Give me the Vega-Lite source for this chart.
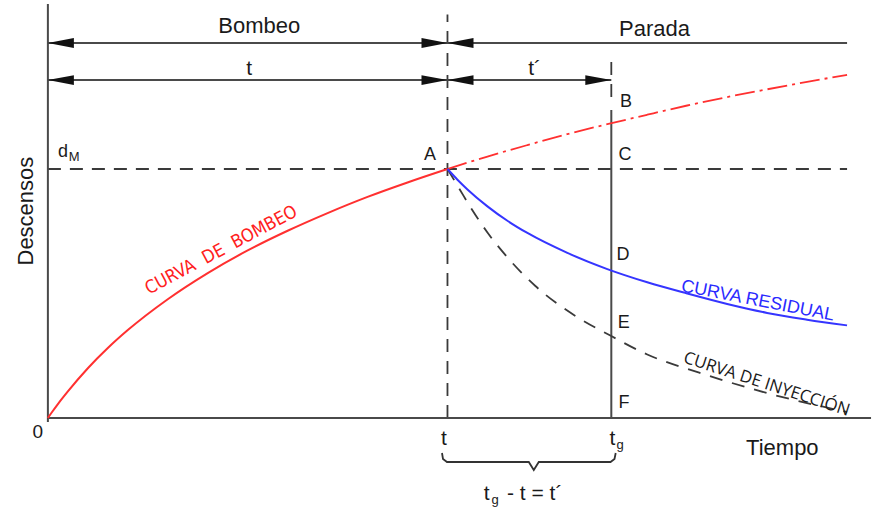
{
  "$schema": "https://vega.github.io/schema/vega-lite/v6.json",
  "description": "Descensos durante el bombeo y la recuperación: curva de bombeo, curva residual y curva de inyección.",
  "width": 873,
  "height": 509,
  "autosize": {"type": "fit", "contains": "padding"},
  "padding": 0,
  "background": "white",
  "config": {"view": {"stroke": null}, "text": {"font": "Liberation Sans"}},
  "datasets": {
    "curves": [
      {"curve": "bombeo", "x": 0, "y": 0},
      {"curve": "bombeo", "x": 0.1, "y": 0.23},
      {"curve": "bombeo", "x": 0.25, "y": 0.56},
      {"curve": "bombeo", "x": 0.5, "y": 1.07},
      {"curve": "bombeo", "x": 1, "y": 2.0},
      {"curve": "bombeo", "x": 1.5, "y": 2.81},
      {"curve": "bombeo", "x": 2, "y": 3.53},
      {"curve": "bombeo", "x": 3, "y": 4.77},
      {"curve": "bombeo", "x": 4, "y": 5.82},
      {"curve": "bombeo", "x": 5, "y": 6.73},
      {"curve": "bombeo", "x": 6, "y": 7.52},
      {"curve": "bombeo", "x": 7, "y": 8.23},
      {"curve": "bombeo", "x": 8, "y": 8.88},
      {"curve": "bombeo", "x": 9, "y": 9.46},
      {"curve": "bombeo", "x": 10, "y": 10},
      {"curve": "prolongacion", "x": 10, "y": 10},
      {"curve": "prolongacion", "x": 11, "y": 10.5},
      {"curve": "prolongacion", "x": 12, "y": 10.96},
      {"curve": "prolongacion", "x": 13, "y": 11.4},
      {"curve": "prolongacion", "x": 14, "y": 11.8},
      {"curve": "prolongacion", "x": 15, "y": 12.18},
      {"curve": "prolongacion", "x": 16, "y": 12.55},
      {"curve": "prolongacion", "x": 17, "y": 12.89},
      {"curve": "prolongacion", "x": 18, "y": 13.2},
      {"curve": "prolongacion", "x": 19, "y": 13.5},
      {"curve": "prolongacion", "x": 20, "y": 13.78},
      {"curve": "residual", "x": 10, "y": 10},
      {"curve": "residual", "x": 10.25, "y": 9.57},
      {"curve": "residual", "x": 10.5, "y": 9.18},
      {"curve": "residual", "x": 11, "y": 8.5},
      {"curve": "residual", "x": 11.5, "y": 7.92},
      {"curve": "residual", "x": 12, "y": 7.43},
      {"curve": "residual", "x": 13, "y": 6.63},
      {"curve": "residual", "x": 14, "y": 5.98},
      {"curve": "residual", "x": 15, "y": 5.45},
      {"curve": "residual", "x": 16, "y": 5.0},
      {"curve": "residual", "x": 17, "y": 4.58},
      {"curve": "residual", "x": 18, "y": 4.22},
      {"curve": "residual", "x": 19, "y": 3.95},
      {"curve": "residual", "x": 20, "y": 3.72},
      {"curve": "inyeccion", "x": 10, "y": 10},
      {"curve": "inyeccion", "x": 10.3, "y": 9.2},
      {"curve": "inyeccion", "x": 10.6, "y": 8.4},
      {"curve": "inyeccion", "x": 11.0, "y": 7.45},
      {"curve": "inyeccion", "x": 11.5, "y": 6.45},
      {"curve": "inyeccion", "x": 12.2, "y": 5.3},
      {"curve": "inyeccion", "x": 13.2, "y": 4.1},
      {"curve": "inyeccion", "x": 14.1, "y": 3.29},
      {"curve": "inyeccion", "x": 15.0, "y": 2.55},
      {"curve": "inyeccion", "x": 16.3, "y": 1.82},
      {"curve": "inyeccion", "x": 18.0, "y": 1.0},
      {"curve": "inyeccion", "x": 20, "y": 0.24}
    ],
    "solidRules": [
      {"x": 0, "x2": 0, "y": -0.16, "y2": 16.63},
      {"x": 0, "x2": 20.6, "y": 0, "y2": 0},
      {"x": 0, "x2": 20, "y": 15.06, "y2": 15.06},
      {"x": 0, "x2": 14.1, "y": 13.57, "y2": 13.57},
      {"x": 14.1, "x2": 14.1, "y": 0, "y2": 12.37}
    ],
    "dashedRules": [
      {"x": 0, "x2": 20, "y": 10, "y2": 10},
      {"x": 10, "x2": 10, "y": 0, "y2": 16.2},
      {"x": 14.1, "x2": 14.1, "y": 12.89, "y2": 14.46}
    ],
    "arrows": [
      {"x": 0, "y": 15.06, "dir": "left"},
      {"x": 0, "y": 13.57, "dir": "left"},
      {"x": 10, "y": 15.06, "dir": "left"},
      {"x": 10, "y": 13.57, "dir": "left"},
      {"x": 10, "y": 15.06, "dir": "right"},
      {"x": 10, "y": 13.57, "dir": "right"},
      {"x": 14.1, "y": 13.57, "dir": "right"}
    ],
    "brace": [
      {"x": 9.863, "y": -1.406},
      {"x": 9.888, "y": -1.647},
      {"x": 9.988, "y": -1.767},
      {"x": 12.035, "y": -1.767},
      {"x": 12.16, "y": -2.088},
      {"x": 12.285, "y": -1.767},
      {"x": 14.08, "y": -1.767},
      {"x": 14.18, "y": -1.647},
      {"x": 14.21, "y": -1.406}
    ],
    "labels": [
      {"kind": "title", "text": "Bombeo", "x": 5.29, "y": 15.46},
      {"kind": "title", "text": "Parada", "x": 15.18, "y": 15.34},
      {"kind": "title", "text": "Tiempo", "x": 18.38, "y": -1.49},
      {"kind": "tmark", "text": "t", "x": 5.04, "y": 13.78},
      {"kind": "tmark", "text": "t´", "x": 12.18, "y": 13.78},
      {"kind": "tmark", "text": "t", "x": 9.91, "y": -1.08},
      {"kind": "tmark", "text": "t", "x": 14.13, "y": -1.08},
      {"kind": "origin", "text": "0", "x": -0.25, "y": -0.8},
      {"kind": "point", "text": "A", "x": 9.41, "y": 10.36},
      {"kind": "point", "text": "B", "x": 14.32, "y": 12.49},
      {"kind": "point", "text": "C", "x": 14.28, "y": 10.36},
      {"kind": "point", "text": "D", "x": 14.23, "y": 6.35},
      {"kind": "point", "text": "E", "x": 14.26, "y": 3.61},
      {"kind": "point", "text": "F", "x": 14.28, "y": 0.4},
      {"kind": "point", "text": "d", "x": 0.25, "y": 10.48},
      {"kind": "sub", "text": "M", "x": 0.52, "y": 10.32},
      {"kind": "sub", "text": "g", "x": 14.23, "y": -1.24},
      {"kind": "sub", "text": "g", "x": 11.1, "y": -3.45},
      {"kind": "formula", "text": "t", "x": 10.91, "y": -3.29},
      {"kind": "formula", "text": "- t = t´", "x": 11.49, "y": -3.29},
      {"kind": "yaxis", "text": "Descensos", "x": -0.3745, "y": 8.31},
      {"kind": "bombeo", "text": "CURVA\u00a0\u00a0DE\u00a0\u00a0BOMBEO", "x": 4.4, "y": 6.55},
      {"kind": "residual", "text": "CURVA RESIDUAL", "x": 17.74, "y": 4.5},
      {"kind": "inyeccion", "text": "CURVA DE INYECCIÓN", "x": 17.95, "y": 1.16}
    ]
  },
  "encoding": {
    "x": {"field": "x", "type": "quantitative", "scale": {"domain": [-1.1985, 20.599], "nice": false, "zero": false}, "axis": null},
    "y": {"field": "y", "type": "quantitative", "scale": {"domain": [-3.6546, 16.787], "nice": false, "zero": false}, "axis": null}
  },
  "layer": [
    {
      "data": {"name": "dashedRules"},
      "mark": {"type": "rule", "color": "#3a3a3a", "strokeWidth": 1.8, "strokeDash": [13, 9]},
      "encoding": {"x2": {"field": "x2"}, "y2": {"field": "y2"}}
    },
    {
      "data": {"name": "solidRules"},
      "mark": {"type": "rule", "color": "#4a4a4a", "strokeWidth": 2},
      "encoding": {"x2": {"field": "x2"}, "y2": {"field": "y2"}}
    },
    {
      "data": {"name": "arrows"},
      "transform": [{"filter": "datum.dir === 'left'"}],
      "mark": {"type": "point", "filled": true, "opacity": 1, "color": "#111111", "size": 676, "shape": "M0,0L2,-0.38L2,0.38Z"}
    },
    {
      "data": {"name": "arrows"},
      "transform": [{"filter": "datum.dir === 'right'"}],
      "mark": {"type": "point", "filled": true, "opacity": 1, "color": "#111111", "size": 676, "shape": "M0,0L-2,-0.38L-2,0.38Z"}
    },
    {
      "data": {"name": "curves"},
      "transform": [{"filter": "datum.curve === 'inyeccion'"}],
      "mark": {"type": "line", "color": "#3a3a3a", "strokeWidth": 1.8, "strokeDash": [13, 10], "interpolate": "monotone"}
    },
    {
      "data": {"name": "curves"},
      "transform": [{"filter": "datum.curve === 'prolongacion'"}],
      "mark": {"type": "line", "color": "#ff3030", "strokeWidth": 1.8, "strokeDash": [20, 5, 3, 5], "interpolate": "monotone"}
    },
    {
      "data": {"name": "curves"},
      "transform": [{"filter": "datum.curve === 'bombeo'"}],
      "mark": {"type": "line", "color": "#ff3030", "strokeWidth": 2, "interpolate": "monotone"}
    },
    {
      "data": {"name": "curves"},
      "transform": [{"filter": "datum.curve === 'residual'"}],
      "mark": {"type": "line", "color": "#3535ff", "strokeWidth": 2, "interpolate": "monotone"}
    },
    {
      "data": {"name": "brace"},
      "mark": {"type": "line", "color": "#333333", "strokeWidth": 1.8, "interpolate": "linear"}
    },
    {
      "data": {"name": "labels"},
      "transform": [{"filter": "datum.kind === 'title'"}],
      "mark": {"type": "text", "fontSize": 22, "align": "center", "baseline": "alphabetic", "color": "#1a1a1a"},
      "encoding": {"text": {"field": "text"}}
    },
    {
      "data": {"name": "labels"},
      "transform": [{"filter": "datum.kind === 'tmark'"}],
      "mark": {"type": "text", "fontSize": 21, "align": "center", "baseline": "alphabetic", "color": "#1a1a1a"},
      "encoding": {"text": {"field": "text"}}
    },
    {
      "data": {"name": "labels"},
      "transform": [{"filter": "datum.kind === 'formula'"}],
      "mark": {"type": "text", "fontSize": 21, "align": "left", "baseline": "alphabetic", "color": "#1a1a1a"},
      "encoding": {"text": {"field": "text"}}
    },
    {
      "data": {"name": "labels"},
      "transform": [{"filter": "datum.kind === 'origin'"}],
      "mark": {"type": "text", "fontSize": 19, "align": "center", "baseline": "alphabetic", "color": "#1a1a1a"},
      "encoding": {"text": {"field": "text"}}
    },
    {
      "data": {"name": "labels"},
      "transform": [{"filter": "datum.kind === 'point'"}],
      "mark": {"type": "text", "fontSize": 18, "align": "left", "baseline": "alphabetic", "color": "#1a1a1a"},
      "encoding": {"text": {"field": "text"}}
    },
    {
      "data": {"name": "labels"},
      "transform": [{"filter": "datum.kind === 'sub'"}],
      "mark": {"type": "text", "fontSize": 13, "align": "left", "baseline": "alphabetic", "color": "#1a1a1a"},
      "encoding": {"text": {"field": "text"}}
    },
    {
      "data": {"name": "labels"},
      "transform": [{"filter": "datum.kind === 'yaxis'"}],
      "mark": {"type": "text", "fontSize": 22, "align": "center", "baseline": "alphabetic", "angle": 270, "color": "#1a1a1a"},
      "encoding": {"text": {"field": "text"}}
    },
    {
      "data": {"name": "labels"},
      "transform": [{"filter": "datum.kind === 'bombeo'"}],
      "mark": {"type": "text", "font": "Liberation Sans Narrow, DejaVu Sans Condensed, Liberation Sans", "fontSize": 18, "align": "center", "baseline": "alphabetic", "angle": 332, "color": "#ff2020"},
      "encoding": {"text": {"field": "text"}}
    },
    {
      "data": {"name": "labels"},
      "transform": [{"filter": "datum.kind === 'residual'"}],
      "mark": {"type": "text", "fontSize": 18, "align": "center", "baseline": "alphabetic", "angle": 11, "color": "#2a2aff"},
      "encoding": {"text": {"field": "text"}}
    },
    {
      "data": {"name": "labels"},
      "transform": [{"filter": "datum.kind === 'inyeccion'"}],
      "mark": {"type": "text", "font": "Open Sans", "fontSize": 17, "align": "center", "baseline": "alphabetic", "angle": 18, "color": "#1a1a1a"},
      "encoding": {"text": {"field": "text"}}
    }
  ]
}
